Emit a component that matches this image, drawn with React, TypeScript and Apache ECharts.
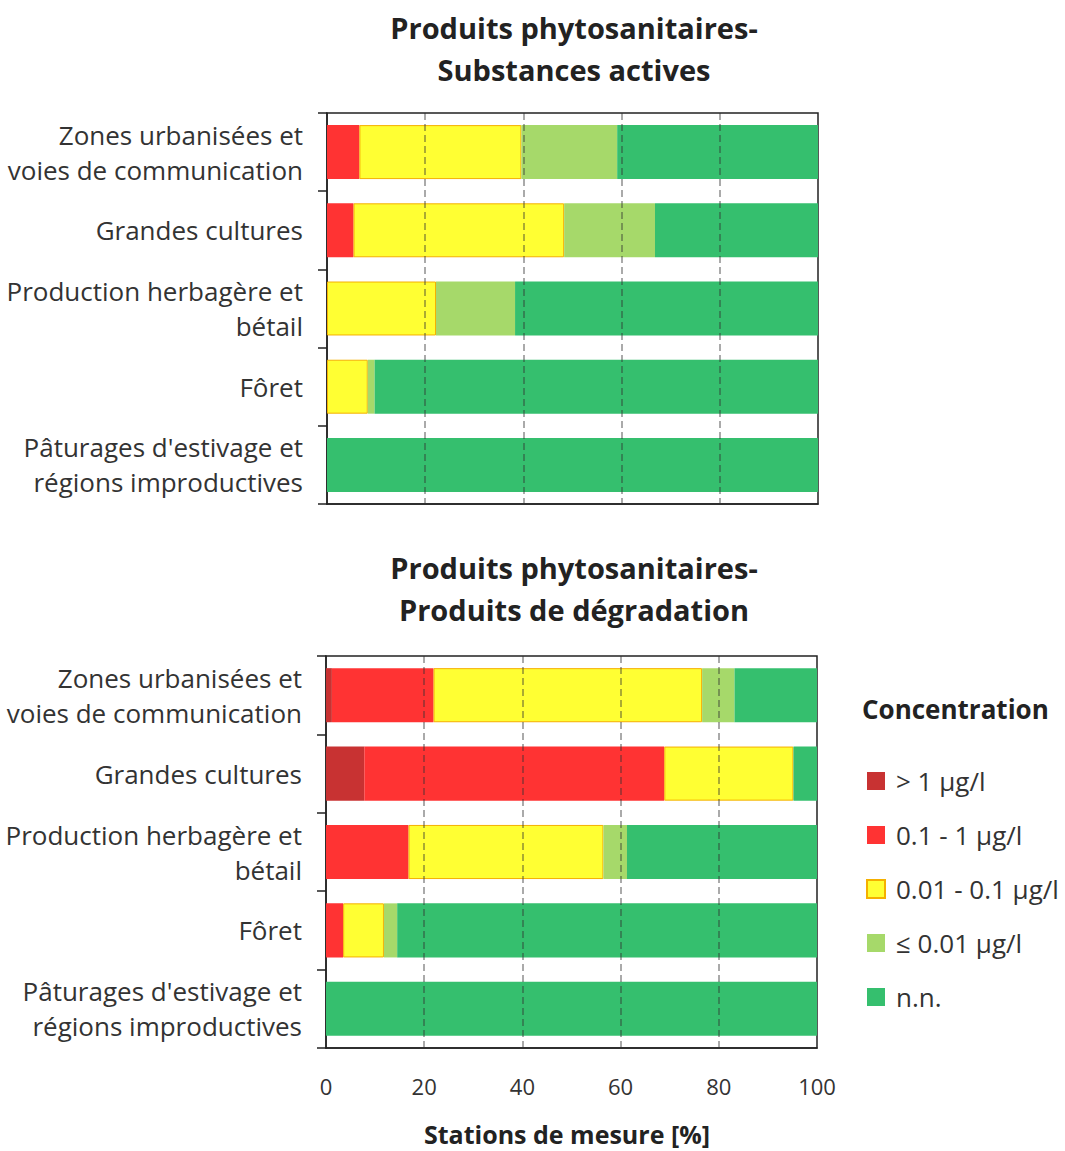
import React, { useEffect, useRef } from "react";
import * as echarts from "echarts";

const categories = [
  "Zones urbanisées et\nvoies de communication",
  "Grandes cultures",
  "Production herbagère et\nbétail",
  "Fôret",
  "Pâturages d'estivage et\nrégions improductives",
];
const seriesNames = ["> 1 µg/l", "0.1 - 1 µg/l", "0.01 - 0.1 µg/l", "≤ 0.01 µg/l", "n.n."];
const seriesColors = ["#c83232", "#ff3333", "#ffff33", "#a6d96a", "#35bf6e"];

const activesDarkRed = [0, 0, 0, 0, 0];
const activesRed = [6.6, 5.4, 0, 0, 0];
const activesYellow = [33, 42.9, 22.2, 8.3, 0];
const activesLightGreen = [19.5, 18.5, 16.1, 1.4, 0];
const activesNN = [40.9, 33.2, 61.7, 90.3, 100];

const degradDarkRed = [1.2, 7.8, 0, 0, 0];
const degradRed = [20.7, 61.1, 16.8, 3.5, 0];
const degradYellow = [54.7, 26.3, 39.7, 8.3, 0];
const degradLightGreen = [6.6, 0, 4.8, 2.7, 0];
const degradNN = [16.8, 4.8, 38.7, 85.5, 100];

const xTicks = [0, 20, 40, 60, 80, 100];
const gridTicks = [20, 40, 60, 80];
const xAxisTitle = "Stations de mesure [%]";

const FONT = "Open Sans";

export default function App() {
  const ref = useRef<HTMLDivElement>(null);
  useEffect(() => {
    if (!ref.current) return;
    const chart = echarts.init(ref.current, undefined, { renderer: "svg" });

    const groups = [
      [activesDarkRed, activesRed, activesYellow, activesLightGreen, activesNN],
      [degradDarkRed, degradRed, degradYellow, degradLightGreen, degradNN],
    ];

    const series: any[] = [];
    groups.forEach((g, gi) => {
      g.forEach((arr, si) => {
        series.push({
          name: seriesNames[si],
          type: "bar",
          stack: "s" + gi,
          xAxisIndex: gi,
          yAxisIndex: gi,
          barWidth: "69%",
          data: arr.map((v) => (v === 0 ? "-" : v)),
          itemStyle: {
            color: seriesColors[si],
            borderColor: si === 2 ? "#f5b000" : seriesColors[si],
            borderWidth: si === 2 ? 1 : 0,
          },
          z: 2,
          markLine:
            si === 4
              ? {
                  silent: true,
                  symbol: "none",
                  label: { show: false },
                  z: 5,
                  lineStyle: { color: "rgba(50,50,50,0.55)", type: [7, 4], width: 1.5 },
                  data: gridTicks.map((t) => ({ xAxis: t })),
                }
              : undefined,
        });
      });
    });

    const yAxisBase = (gi: number) => ({
      type: "category",
      gridIndex: gi,
      data: categories,
      inverse: true,
      axisLine: { show: true, lineStyle: { color: "#222", width: 1.5 } },
      axisTick: { show: true, length: 9, lineStyle: { color: "#222", width: 1.5 } },
      axisLabel: {
        fontFamily: FONT,
        fontSize: 26,
        color: "#333",
        lineHeight: 35,
        margin: 24,
        align: "right",
      },
    });

    const xAxisBase = (gi: number, showLabels: boolean) => ({
      type: "value",
      gridIndex: gi,
      min: 0,
      max: 100,
      interval: 20,
      splitLine: { show: false },
      axisTick: { show: false },
      axisLine: { show: true, lineStyle: { color: "#222", width: 1.5 } },
      axisLabel: {
        show: showLabels,
        fontFamily: FONT,
        fontSize: 22,
        color: "#333",
        margin: 27,
        customValues: xTicks,
      },
    });

    const titleStyle = { fontFamily: FONT, fontSize: 29, fontWeight: "bold", color: "#222", lineHeight: 42 };

    chart.setOption({
      animation: false,
      backgroundColor: "#ffffff",
      title: [
        {
          text: "Produits phytosanitaires-\nSubstances actives",
          left: 569,
          top: 1,
          textAlign: "center",
          textStyle: titleStyle,
        },
        {
          text: "Produits phytosanitaires-\nProduits de dégradation",
          left: 569,
          top: 541,
          textAlign: "center",
          textStyle: titleStyle,
        },
      ],
      legend: {
        orient: "vertical",
        left: 866,
        top: 768,
        padding: 0,
        itemWidth: 18,
        itemHeight: 18,
        itemGap: 28,
        icon: "rect",
        data: seriesNames,
        textStyle: { fontFamily: FONT, fontSize: 26, color: "#333", padding: [0, 0, 0, 6] },
        selectedMode: false,
      },
      graphic: [
        {
          type: "text",
          left: 862,
          top: 696,
          style: { text: "Concentration", font: `bold 26px '${FONT}'`, fill: "#222" },
        },
        {
          type: "text",
          x: 567,
          y: 1134,
          style: {
            text: xAxisTitle,
            font: `bold 25px '${FONT}'`,
            fill: "#222",
            align: "center",
            verticalAlign: "middle",
          },
        },
      ],
      grid: [
        {
          left: 327, top: 113, width: 491, height: 391, show: true, borderColor: "#222", borderWidth: 1.5,
          containLabel: false, outerBoundsMode: "none",
        },
        {
          left: 326, top: 656, width: 491, height: 392, show: true, borderColor: "#222", borderWidth: 1.5,
          containLabel: false, outerBoundsMode: "none",
        },
      ],
      xAxis: [xAxisBase(0, false), xAxisBase(1, true)],
      yAxis: [yAxisBase(0), yAxisBase(1)],
      series,
    });

    return () => chart.dispose();
  }, []);

  return (
    <div
      ref={ref}
      style={{ position: "absolute", left: 0, top: 0, width: 1065, height: 1151 }}
    />
  );
}
